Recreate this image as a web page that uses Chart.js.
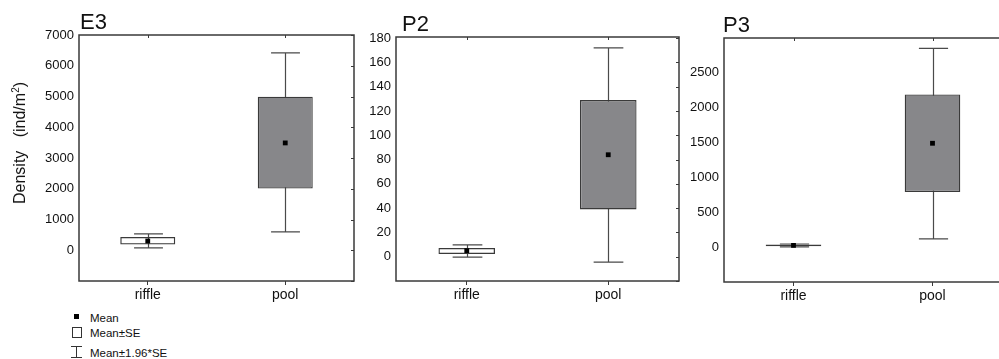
<!DOCTYPE html>
<html>
<head>
<meta charset="utf-8">
<script src="https://cdn.jsdelivr.net/npm/chart.js@4/dist/chart.umd.min.js"></script>
<style>
  html, body { margin: 0; padding: 0; background: #fff; overflow: hidden; }
  body { width: 999px; height: 359px; position: relative;
         font-family: "Liberation Sans", Arial, sans-serif; color: #111; }
  .wrap { position: absolute; top: 0; height: 310px; overflow: hidden; }
  canvas { display: block; }
  .title { position: absolute; font-size: 22px; line-height: 26px; white-space: nowrap; }
  .ylab { position: absolute; left: 20px; top: 143px; font-size: 16px; line-height: 18px;
          white-space: nowrap; transform: translate(-50%, -50%) rotate(-90deg); }
  .ylab sup { font-size: 10px; vertical-align: 6px; line-height: 0; }
  .leg { position: absolute; left: 90px; font-size: 11.5px; line-height: 14px; white-space: nowrap; }
  .sym { position: absolute; box-sizing: border-box; }
</style>
</head>
<body>
<div class="wrap" style="left:0px;width:358px;"><canvas id="c1" width="358" height="310"></canvas></div>
<div class="wrap" style="left:360px;width:323px;"><canvas id="c2" width="323" height="310"></canvas></div>
<div class="wrap" style="left:685px;width:314px;"><canvas id="c3" width="321" height="310"></canvas></div>

<div class="title" style="left:80px;top:9px;">E3</div>
<div class="title" style="left:402px;top:11px;">P2</div>
<div class="title" style="left:723px;top:12px;">P3</div>
<div class="ylab">Density&nbsp;&nbsp;&nbsp;(ind/m<sup>2</sup>)</div>

<!-- legend -->
<div class="sym" style="left:74px;top:314px;width:5px;height:5px;background:#000;"></div>
<div class="leg" style="top:311px;">Mean</div>
<div class="sym" style="left:72px;top:327px;width:10px;height:11px;border:1px solid #333;"></div>
<div class="leg" style="top:326px;">Mean±SE</div>
<div class="sym" style="left:76px;top:346px;width:1px;height:12px;background:#333;"></div>
<div class="sym" style="left:71px;top:346px;width:11px;height:1px;background:#333;"></div>
<div class="sym" style="left:71px;top:357px;width:11px;height:1px;background:#333;"></div>
<div class="leg" style="top:346px;">Mean±1.96*SE</div>

<script>
// ---------------- data ----------------
const categories = ['riffle', 'pool'];

const e3Mean   = [300, 3490];
const e3SeLow  = [185, 2010];
const e3SeHigh = [430, 4990];
const e3CiLow  = [75, 600];
const e3CiHigh = [530, 6420];
const e3TickLabels = [0, 1000, 2000, 3000, 4000, 5000, 6000, 7000];

const p2Mean   = [5, 84];
const p2SeLow  = [2.2, 39];
const p2SeHigh = [7.2, 129];
const p2CiLow  = [-0.3, -4.5];
const p2CiHigh = [9.7, 172];
const p2TickLabels = [0, 20, 40, 60, 80, 100, 120, 140, 160, 180];

const p3Mean   = [25, 1490];
const p3SeLow  = [12, 790];
const p3SeHigh = [38, 2190];
const p3CiLow  = [5, 120];
const p3CiHigh = [45, 2850];
const p3TickLabels = [0, 500, 1000, 1500, 2000, 2500];

// ---------------- drawing ----------------
const boxFill = ['rgba(255,255,255,0)', '#87878a'];
const lineCol = '#3a3a3a';

const boxPlugin = {
  id: 'boxFrame',
  beforeDatasetsDraw(chart, args, opts) {
    const x = chart.scales.x, y = chart.scales.y, ctx = chart.ctx;
    const catW = x.width / categories.length;
    ctx.save();
    ctx.strokeStyle = '#4a4a4a';
    ctx.lineWidth = 1.2;
    opts.low.forEach((lo, i) => {
      const cx = Math.round(x.getPixelForValue(i)) + 0.5;
      const yl = y.getPixelForValue(lo), yh = y.getPixelForValue(opts.high[i]);
      const hw = catW * opts.capFraction / 2;
      ctx.beginPath();
      ctx.moveTo(cx, yl); ctx.lineTo(cx, yh);
      ctx.moveTo(cx - hw, yl); ctx.lineTo(cx + hw, yl);
      ctx.moveTo(cx - hw, yh); ctx.lineTo(cx + hw, yh);
      ctx.stroke();
    });
    ctx.restore();
  },
  afterDraw(chart) {
    const a = chart.chartArea, ctx = chart.ctx, y = chart.scales.y, x = chart.scales.x;
    ctx.save();
    ctx.strokeStyle = lineCol;
    ctx.lineWidth = 1.5;
    ctx.strokeRect(a.left, a.top, a.right - a.left, a.bottom - a.top);
    ctx.lineWidth = 1;
    ctx.beginPath();
    y.ticks.forEach(t => {
      const py = Math.round(y.getPixelForValue(t.value)) + 0.5;
      ctx.moveTo(a.right, py); ctx.lineTo(a.right - 3, py);
    });
    categories.forEach((c, i) => {
      const px = Math.round(x.getPixelForValue(i)) + 0.5;
      ctx.moveTo(px, a.top); ctx.lineTo(px, a.top + 3);
    });
    ctx.stroke();
    ctx.restore();
  }
};

function makePanel(id, d) {
  const labeled = d.tickLabels;
  const step = labeled[1] - labeled[0];
  return new Chart(document.getElementById(id), {
    data: {
      labels: categories,
      datasets: [
        {
          type: 'line',
          data: d.mean,
          showLine: false,
          pointStyle: 'rect',
          pointRadius: 3.4,
          pointBackgroundColor: '#000',
          pointBorderWidth: 0,
          order: 0
        },
        {
          type: 'bar',
          data: d.seLow.map((lo, i) => [lo, d.seHigh[i]]),
          backgroundColor: boxFill,
          borderColor: lineCol,
          borderWidth: 1.3,
          borderSkipped: false,
          grouped: false,
          categoryPercentage: 1,
          barPercentage: 0.4,
          order: 1
        }
      ]
    },
    options: {
      responsive: false,
      animation: false,
      events: [],
      devicePixelRatio: 1,
      layout: { padding: { top: d.padTop, right: 2, left: 0, bottom: 0 } },
      plugins: {
        legend: { display: false },
        tooltip: { enabled: false },
        title: { display: false },
        boxFrame: { low: d.ciLow, high: d.ciHigh, capFraction: 0.21 }
      },
      scales: {
        x: {
          type: 'category',
          offset: true,
          border: { display: false },
          grid: { display: true, drawOnChartArea: false, drawTicks: true, tickLength: 4,
                  tickColor: lineCol, offset: false },
          ticks: { color: '#111', font: { family: '"Liberation Sans", Arial, sans-serif', size: 14 },
                   padding: 2, maxRotation: 0 },
          afterFit: s => { s.height = d.xHeight; }
        },
        y: {
          type: 'linear',
          min: d.min,
          max: d.max,
          border: { display: false },
          grid: { display: false, drawTicks: false, tickLength: 0 },
          ticks: {
            stepSize: step,
            autoSkip: false,
            padding: 5,
            color: '#111',
            font: { family: '"Liberation Sans", Arial, sans-serif', size: 13 },
            callback: v => labeled.includes(v) ? String(v) : ''
          },
          afterBuildTicks: s => {
            const t = [];
            for (let k = Math.ceil(d.min / step); k * step <= d.max + 1e-9; k++) t.push({ value: k * step });
            s.ticks = t;
          },
          afterFit: s => { s.width = d.yWidth; }
        }
      }
    },
    plugins: [boxPlugin]
  });
}

makePanel('c1', { mean: e3Mean, seLow: e3SeLow, seHigh: e3SeHigh, ciLow: e3CiLow, ciHigh: e3CiHigh,
  tickLabels: e3TickLabels, min: -1000, max: 7000, yWidth: 79, padTop: 35, xHeight: 29 });
makePanel('c2', { mean: p2Mean, seLow: p2SeLow, seHigh: p2SeHigh, ciLow: p2CiLow, ciHigh: p2CiHigh,
  tickLabels: p2TickLabels, min: -20, max: 181, yWidth: 36, padTop: 37, xHeight: 29 });
makePanel('c3', { mean: p3Mean, seLow: p3SeLow, seHigh: p3SeHigh, ciLow: p3CiLow, ciHigh: p3CiHigh,
  tickLabels: p3TickLabels, min: -500, max: 3000, yWidth: 39, padTop: 38, xHeight: 28 });
</script>
</body>
</html>
